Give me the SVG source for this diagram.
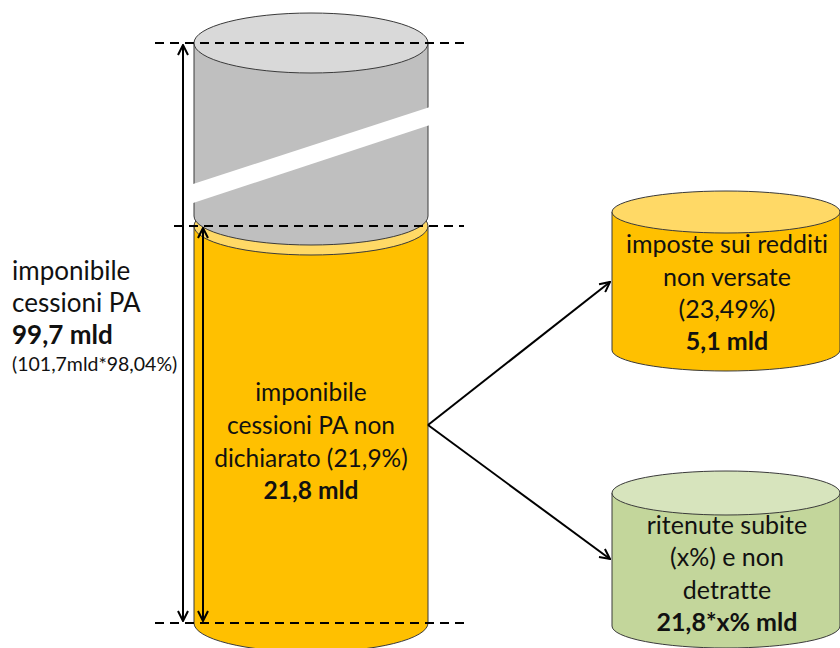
<svg xmlns="http://www.w3.org/2000/svg" width="840" height="648" viewBox="0 0 840 648">
  <style>
    text { font-variant-ligatures: none; }
    .edge { stroke: #3a3a3a; stroke-width: 1; }
    .txt { font-family: Lato, "Liberation Sans", sans-serif; font-size: 25px; fill: #111; text-anchor: middle; }
    .mid { font-size: 24.5px; }
    .lft { font-family: Lato, "Liberation Sans", sans-serif; font-size: 26px; fill: #111; }
    .b { font-weight: bold; }
    .dash { stroke: #000; stroke-width: 2; stroke-dasharray: 9 6; fill: none; }
    .dim { stroke: #000; stroke-width: 2; fill: none; }
    .conn { stroke: #000; stroke-width: 2; fill: none; }
  </style>
  <defs>
    <marker id="open" viewBox="0 0 12 12" refX="11" refY="6" markerWidth="12" markerHeight="12" markerUnits="userSpaceOnUse" orient="auto-start-reverse">
      <path d="M1,1 L11,6 L1,11" fill="none" stroke="#000" stroke-width="2"/>
    </marker>
  </defs>
  <rect width="840" height="648" fill="#fff"/>

  <!-- lower (orange) cylinder: undeclared share -->
  <g id="orange-cylinder">
    <path class="edge" d="M194,226 L194,623 A117,29 0 0 0 428,623 L428,226 Z" fill="#FFC000"/>
    <ellipse class="edge" cx="311" cy="226" rx="117" ry="29" fill="#FFD966"/>
  </g>

  <!-- upper (grey) cylinder: declared share, with break band -->
  <g id="grey-cylinder">
    <path class="edge" d="M194,43 L194,216 A117,29 0 0 0 428,216 L428,43 Z" fill="#BFBFBF"/>
    <ellipse class="edge" cx="311" cy="43" rx="117" ry="30" fill="#D9D9D9"/>
    <polygon points="190,185 433,106 433,124 190,204" fill="#fff"/>
  </g>

  <g id="center-label">
    <text class="txt mid" x="311" y="401">imponibile</text>
    <text class="txt mid" x="311" y="434">cessioni PA non</text>
    <text class="txt mid" x="311" y="467">dichiarato (21,9%)</text>
    <text class="txt mid b" x="311" y="499">21,8 mld</text>
  </g>

  <!-- reference lines and dimension arrows -->
  <g id="guides">
    <line class="dash" x1="155" y1="43" x2="466" y2="43"/>
    <line class="dash" x1="174" y1="226" x2="464" y2="226"/>
    <line class="dash" x1="155" y1="623" x2="466" y2="623"/>
    <line class="dim" x1="183" y1="45" x2="183" y2="621" marker-start="url(#open)" marker-end="url(#open)"/>
    <line class="dim" x1="203" y1="228" x2="203" y2="621" marker-start="url(#open)" marker-end="url(#open)"/>
  </g>

  <g id="left-label">
    <text class="lft" x="12" y="280">imponibile</text>
    <text class="lft" x="12" y="312">cessioni PA</text>
    <text class="lft b" x="12" y="344">99,7 mld</text>
    <text class="lft" x="12" y="371" style="font-size:19.5px">(101,7mld*98,04%)</text>
  </g>

  <g id="taxes-cylinder">
    <path class="edge" d="M612,212 L612,350 A114,21 0 0 0 840,350 L840,212 Z" fill="#FFC000"/>
    <ellipse class="edge" cx="726" cy="212" rx="114" ry="21" fill="#FFD966"/>
    <text class="txt" x="727" y="253">imposte sui redditi</text>
    <text class="txt" x="727" y="286">non versate</text>
    <text class="txt" x="727" y="318">(23,49%)</text>
    <text class="txt b" x="727" y="350">5,1 mld</text>
  </g>

  <g id="withholding-cylinder">
    <path class="edge" d="M612,493 L612,626 A114,22 0 0 0 840,626 L840,493 Z" fill="#C3D69B"/>
    <ellipse class="edge" cx="726" cy="493" rx="114" ry="22" fill="#D7E4BD"/>
    <text class="txt" x="727" y="534">ritenute subite</text>
    <text class="txt" x="727" y="566">(x%) e non</text>
    <text class="txt" x="727" y="599">detratte</text>
    <text class="txt b" x="727" y="631">21,8*x% mld</text>
  </g>

  <g id="connectors">
    <line class="conn" x1="428" y1="425" x2="610" y2="282" marker-end="url(#open)"/>
    <line class="conn" x1="428" y1="425" x2="610" y2="559" marker-end="url(#open)"/>
  </g>
</svg>
